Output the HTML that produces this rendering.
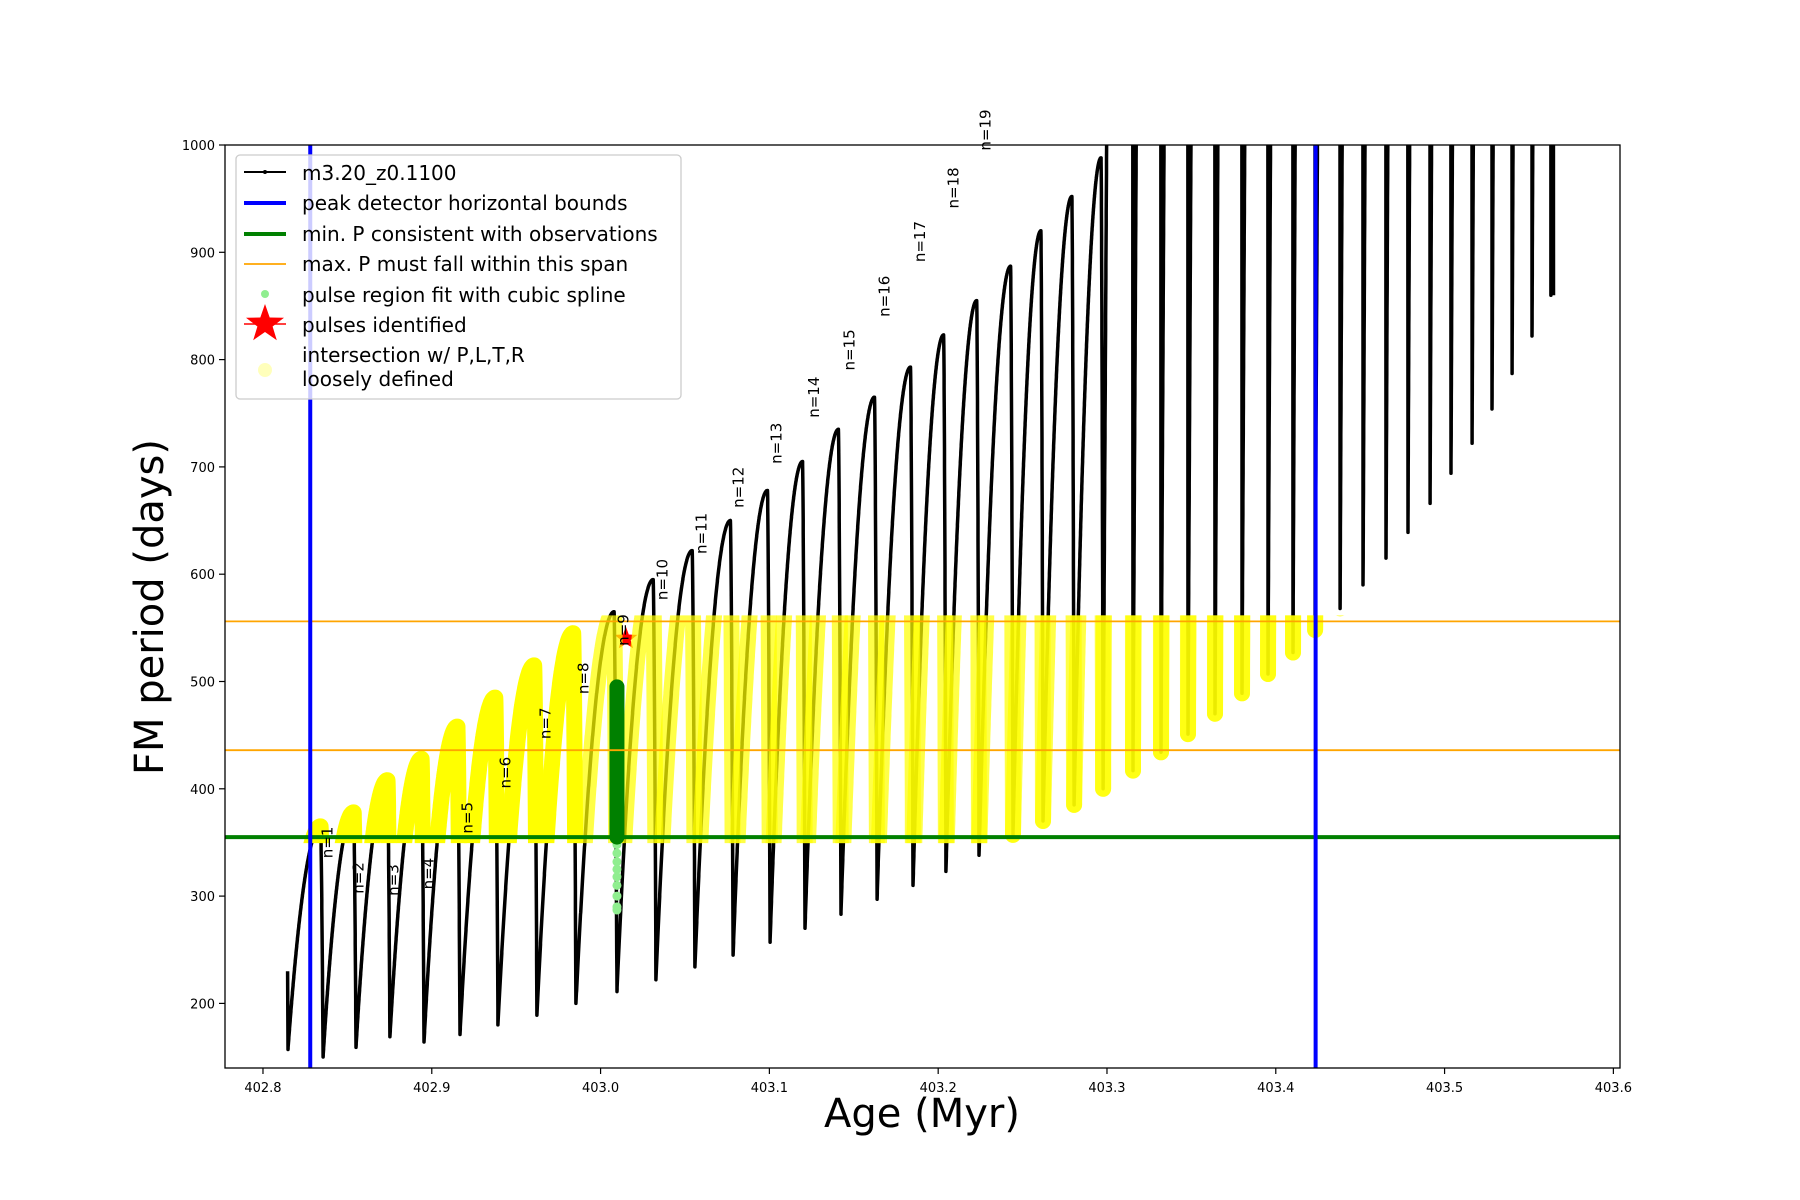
<!DOCTYPE html>
<html><head><meta charset="utf-8"><style>
body{margin:0;background:#fff;}
svg{display:block;font-family:"DejaVu Sans","Liberation Sans",sans-serif;}
</style></head><body>
<svg id="chart" width="1800" height="1200" xmlns="http://www.w3.org/2000/svg">
<rect width="1800" height="1200" fill="#fff"/>
<defs><clipPath id="plotclip"><rect x="225" y="145" width="1395" height="923"/></clipPath><clipPath id="bandclip"><rect id="bandrect" x="225" y="0" width="1395" height="10"/></clipPath></defs>
<g id="plot" clip-path="url(#plotclip)"></g>
<rect x="225" y="145" width="1395" height="923" fill="none" stroke="#000" stroke-width="1.3"/>
<g id="ticks"></g>
<text x="922" y="1127" font-size="40" text-anchor="middle">Age (Myr)</text>
<text x="0" y="0" font-size="40" text-anchor="middle" transform="translate(163,607) rotate(-90)">FM period (days)</text>
<g id="legend">
<rect x="236" y="155" width="445" height="244" rx="4" fill="#fff" fill-opacity="0.8" stroke="#ccc" stroke-width="1.3"/>
<g><line x1="244" y1="172" x2="286" y2="172" stroke="#000" stroke-width="2"/><circle cx="265" cy="172" r="2" fill="#000"/><text x="302" y="180" font-size="20">m3.20_z0.1100</text></g>
<g><line x1="244" y1="203" x2="286" y2="203" stroke="#0000ff" stroke-width="4"/><text x="302" y="210" font-size="20">peak detector horizontal bounds</text></g>
<g><line x1="244" y1="234" x2="286" y2="234" stroke="#008000" stroke-width="4"/><text x="302" y="241" font-size="20">min. P consistent with observations</text></g>
<g><line x1="244" y1="264" x2="286" y2="264" stroke="#ffa500" stroke-width="1.8"/><text x="302" y="271" font-size="20">max. P must fall within this span</text></g>
<g><circle cx="265" cy="294" r="4" fill="#90ee90"/><text x="302" y="302" font-size="20">pulse region fit with cubic spline</text></g>
<g><polygon id="legstar" fill="#ff0000" points=""/><line x1="244" y1="324" x2="286" y2="324" stroke="#ff0000" stroke-width="1.5"/><text x="302" y="332" font-size="20">pulses identified</text></g>
<g><circle cx="265" cy="370" r="7" fill="#ffffaa" fill-opacity="0.8"/><text x="302" y="362" font-size="20">intersection w/ P,L,T,R</text><text x="302" y="386" font-size="20">loosely defined</text></g>
</g>
</svg>
<script>
// ---- data ----
const dropAges=[402.8148,402.8356,402.8551,402.8752,402.8954,402.9167,402.9392,402.9623,402.9854,403.0097,403.0328,403.0559,403.0785,403.1004,403.1211,403.1424,403.1638,403.1851,403.2046,403.2242,403.2443,403.2621,403.2805,403.2977,403.3154,403.3320,403.3480,403.3640,403.3800,403.3954,403.4102,403.4233,403.4381,403.4517,403.4653,403.4783,403.4914,403.5038,403.5163,403.5281,403.5400,403.5518,403.5630,403.5645];
const minP=[157,150,159,169,164,171,180,189,200,211,222,234,245,257,270,283,297,310,323,338,357,370,385,400,417,434,451,470,489,507,527,548,568,590,615,639,666,694,722,754,787,822,860];
const maxP=[365,378,408,428,458,485,515,545,565,595,622,650,678,705,735,765,793,823,855,887,920,952,988,3000,3000,3000,3000,3000,3000,3000,3000,3000,3000,3000,3000,3000,3000,3000,3000,3000,3000,3000,3000];
const startP=230;
const xTicks=[402.8,402.9,403.0,403.1,403.2,403.3,403.4,403.5,403.6];
const xTickLabels=["402.8","402.9","403.0","403.1","403.2","403.3","403.4","403.5","403.6"];
const yTicks=[200,300,400,500,600,700,800,900,1000];
const blueAges=[402.828,403.4236];
const greenP=355;
const orangeP=[556,436];
const labelAges=[402.8383,402.8567,402.8774,402.8981,402.9212,402.9437,402.9674,402.9899,403.0136,403.0367,403.0598,403.0818,403.1043,403.1263,403.1476,403.1683,403.1891,403.2092,403.2281];
const labelP=[350,317,315,321,373,415,461,503,548,595,638,681,722,765,809,859,910,960,1014];
const fitCycle=8;
const fitRange=[355,495];
const splineP=[290,300,310,318,325,332,340,348];
const starAge=403.0150, starP=540;

// ---- axes ----
const X=a=>225+(a-402.7775)*1688;
const Y=p=>145+(1000-p)*1.073;
const NS="http://www.w3.org/2000/svg";
const plot=document.getElementById('plot');
const ticks=document.getElementById('ticks');
function mk(tag,attrs,parent){const e=document.createElementNS(NS,tag);for(const k in attrs)e.setAttribute(k,attrs[k]);parent.appendChild(e);return e;}

const br=document.getElementById('bandrect');
br.setAttribute('y',Y(orangeP[0])-6);
br.setAttribute('height',Y(greenP)-Y(orangeP[0])+12);

function cyclePts(i){
  const a0=dropAges[i],a1=dropAges[i+1],mn=minP[i],mx=maxP[i];
  const nxt=(minP[i+1]!==undefined?minP[i+1]:mn);
  const up=mx>1500?0.96:0.93;const pts=[];const N=400;
  for(let k=0;k<=N;k++){const u=k/N;let p;
    if(u<=up){const s=u/up;p=mn+(mx-mn)*(1-(1-s)*(1-s));}
    else{const s=(u-up)/(1-up);p=mx-(mx-nxt)*Math.pow(s,1.5);}
    pts.push([a0+(a1-a0)*u,p]);}
  return pts;
}
const allCycles=[];for(let i=0;i<minP.length;i++)allCycles.push(cyclePts(i));
function pathOf(c){let s="";c.forEach((p,k)=>{s+=(k?" L":"M")+X(p[0]).toFixed(1)+","+Math.max(-500,Y(p[1])).toFixed(1);});return s;}

function starPts(cx,cy,R,r){let s="";for(let k=0;k<10;k++){const ang=-Math.PI/2+k*Math.PI/5;const rr=k%2?r:R;s+=(cx+rr*Math.cos(ang)).toFixed(1)+","+(cy+rr*Math.sin(ang)).toFixed(1)+" ";}return s;}
const st=mk('polygon',{points:starPts(X(starAge),Y(starP),12,5),fill:'#ff0000'},plot);


document.getElementById('legstar').setAttribute('points',starPts(265,324,20,8));

let d="M"+X(dropAges[0]-0.0002).toFixed(1)+","+Y(startP).toFixed(1);
allCycles.forEach(c=>c.forEach(p=>{d+=" L"+X(p[0]).toFixed(1)+","+Math.max(-500,Y(p[1])).toFixed(1);}));
const ml=mk('path',{d:d,fill:'none',stroke:'#000','stroke-width':3.5,'stroke-linejoin':'round'},plot);



const band=mk('g',{'clip-path':'url(#bandclip)'},plot);


allCycles.forEach((c,i)=>{
  if(dropAges[i]>blueAges[1]+0.001) return;
  const y=mk('path',{d:pathOf(c),fill:'none',stroke:'#ffff00','stroke-width':16,'stroke-linecap':'round','stroke-linejoin':'round','stroke-opacity':i<8?1:0.72},band);
  
  
});

const fa=dropAges[fitCycle+1];
splineP.forEach(p=>{const c=mk('circle',{cx:X(fa),cy:Y(p),r:4.5,fill:'#90ee90'},plot);
  
  });
const g0=mk('circle',{cx:X(fa),cy:Y(287),r:4.5,fill:'#90ee90'},plot);


const gf=mk('line',{x1:X(fa),x2:X(fa),y1:Y(fitRange[1]),y2:Y(fitRange[0]),stroke:'#008000','stroke-width':15,'stroke-linecap':'round'},plot);



orangeP.forEach(p=>{const l=mk('line',{x1:225,x2:1620,y1:Y(p),y2:Y(p),stroke:'#ffa500','stroke-width':1.8},plot);
  
  });
const gl=mk('line',{x1:225,x2:1620,y1:Y(greenP),y2:Y(greenP),stroke:'#008000','stroke-width':4},plot);


blueAges.forEach(a=>{const l=mk('line',{x1:X(a),x2:X(a),y1:145,y2:1068,stroke:'#0000ff','stroke-width':4},plot);
  
  });

labelAges.forEach((a,i)=>{const t=mk('text',{x:0,y:0,'font-size':15,'text-anchor':'middle',transform:`translate(${(X(a)+5).toFixed(1)},${Y(labelP[i]).toFixed(1)}) rotate(-90)`},document.getElementById('chart'));
  t.textContent='n='+(i+1);
  
  });

xTicks.forEach((v,i)=>{const x=X(v);mk('line',{x1:x,x2:x,y1:1068,y2:1074,stroke:'#000','stroke-width':1.2},ticks);
  const t=mk('text',{x:x,y:1092,'font-size':13,'text-anchor':'middle'},ticks);t.textContent=xTickLabels[i];
  
  });
yTicks.forEach(v=>{const y=Y(v);mk('line',{x1:219,x2:225,y1:y,y2:y,stroke:'#000','stroke-width':1.2},ticks);
  const t=mk('text',{x:215,y:y+5,'font-size':13,'text-anchor':'end'},ticks);t.textContent=v;
  
  });
</script>
</body></html>
